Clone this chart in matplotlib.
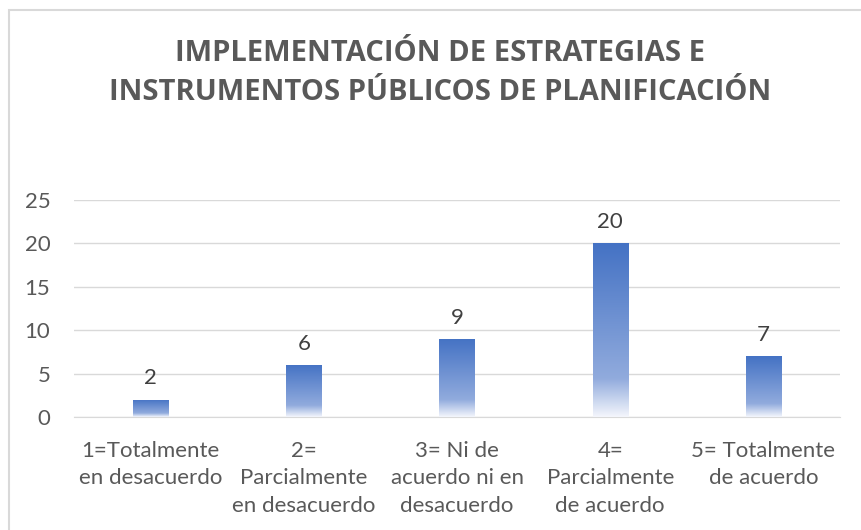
import matplotlib.pyplot as plt
import numpy as np
from matplotlib.colors import LinearSegmentedColormap
from matplotlib.patches import Rectangle

# Datos de la encuesta
categorias = ["1=Totalmente\nen desacuerdo", "2=\nParcialmente\nen desacuerdo",
              "3= Ni de\nacuerdo ni en\ndesacuerdo", "4=\nParcialmente\nde acuerdo",
              "5= Totalmente\nde acuerdo"]
valores = [2, 6, 9, 20, 7]
yticks = [0, 5, 10, 15, 20, 25]
titulo = "IMPLEMENTACIÓN DE ESTRATEGIAS E\nINSTRUMENTOS PÚBLICOS DE PLANIFICACIÓN"

gris = "#595959"
fig = plt.figure(figsize=(8.61, 5.30), dpi=100)
ax = fig.add_axes([74/861, 1 - 417/530, 766/861, 217/530])

# Marco del gráfico
fig.patches.append(Rectangle((9/861, -0.1), 1.2, 1.1 - 10/530, transform=fig.transFigure,
                             fill=False, edgecolor="#d9d9d9", linewidth=1.5))

x = np.arange(len(valores))
barras = ax.bar(x, valores, width=0.23, facecolor="none", edgecolor="none", zorder=3)

# Degradado de cada barra (azul arriba, blanco abajo)
cmap = LinearSegmentedColormap.from_list(
    "deg", [(0.0, "#f4f6fc"), (0.22, "#91abdd"), (1.0, "#4472c4")])
grad = np.linspace(0, 1, 256).reshape(-1, 1)
for b in barras:
    x0, w, h = b.get_x(), b.get_width(), b.get_height()
    im = ax.imshow(grad, cmap=cmap, origin="lower", aspect="auto",
                   extent=[x0, x0 + w, 0, h], zorder=3)
    im.set_clip_path(b)
    ax.text(x0 + w/2, h + 1.3, str(int(h)), ha="center", va="bottom",
            fontsize=16, color="#404040", family="Lato")

ax.set_xlim(-0.5, len(valores) - 0.5)
ax.set_ylim(0, 25)
ax.set_yticks(yticks)
ax.grid(axis="y", color="#d9d9d9", linewidth=1, zorder=0)
ax.set_axisbelow(True)
for s in ["top", "right", "left"]:
    ax.spines[s].set_visible(False)
ax.spines["bottom"].set_color("#d9d9d9")
ax.tick_params(length=0, labelsize=16, colors=gris)
ax.tick_params(axis="y", pad=17)
ax.tick_params(axis="x", pad=17)
ax.set_xticks(x)
ax.set_xticklabels(categorias, linespacing=1.48)
for lab in ax.get_xticklabels() + ax.get_yticklabels():
    lab.set_family("Lato")
    lab.set_color(gris)

fig.text(440/861, 1 - 73/530, titulo, ha="center", va="center", fontsize=21,
         fontweight="bold", color=gris, family="Open Sans", linespacing=1.45)

fig.savefig("out.png", dpi=100)
